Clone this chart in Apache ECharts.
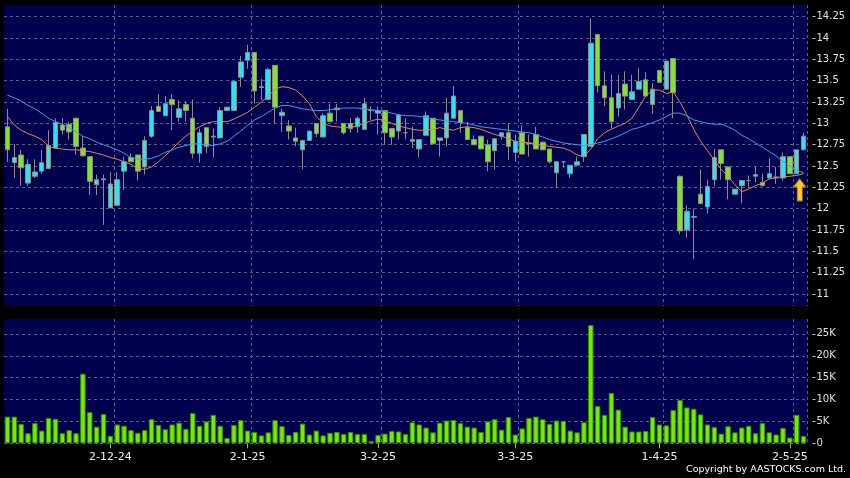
<!DOCTYPE html>
<html><head><meta charset="utf-8">
<script src="https://cdn.jsdelivr.net/npm/echarts@6/dist/echarts.min.js"></script>
<style>html,body{margin:0;padding:0;background:#000;}#c{width:850px;height:478px;}</style>
</head><body><div id="c"></div>
<script>
const dates = ['11-11-24','12-11-24','13-11-24','14-11-24','15-11-24','18-11-24','19-11-24','20-11-24','21-11-24','22-11-24','25-11-24','26-11-24','27-11-24','28-11-24','29-11-24',
'2-12-24','3-12-24','4-12-24','5-12-24','6-12-24','9-12-24','10-12-24','11-12-24','12-12-24','13-12-24','16-12-24','17-12-24','18-12-24','19-12-24','20-12-24','23-12-24','24-12-24','27-12-24','30-12-24','31-12-24',
'2-1-25','3-1-25','6-1-25','7-1-25','8-1-25','9-1-25','10-1-25','13-1-25','14-1-25','15-1-25','16-1-25','17-1-25','20-1-25','21-1-25','22-1-25','23-1-25','24-1-25','27-1-25','28-1-25',
'3-2-25','4-2-25','5-2-25','6-2-25','7-2-25','10-2-25','11-2-25','12-2-25','13-2-25','14-2-25','17-2-25','18-2-25','19-2-25','20-2-25','21-2-25','24-2-25','25-2-25','26-2-25','27-2-25','28-2-25',
'3-3-25','4-3-25','5-3-25','6-3-25','7-3-25','10-3-25','11-3-25','12-3-25','13-3-25','14-3-25','17-3-25','18-3-25','19-3-25','20-3-25','21-3-25','24-3-25','25-3-25','26-3-25','27-3-25','28-3-25','31-3-25',
'1-4-25','2-4-25','3-4-25','7-4-25','8-4-25','9-4-25','10-4-25','11-4-25','14-4-25','15-4-25','16-4-25','17-4-25','22-4-25','23-4-25','24-4-25','25-4-25','28-4-25','29-4-25','30-4-25',
'2-5-25','6-5-25','7-5-25'];

const tickDates = ['2-12-24','2-1-25','3-2-25','3-3-25','1-4-25','2-5-25'];

// [open, close, low, high]
const ohlc = [
[12.96,12.69,12.55,13.17],[12.54,12.60,12.36,12.76],[12.63,12.48,12.27,12.69],[12.30,12.52,12.27,12.58],[12.38,12.43,12.36,12.58],
[12.44,12.54,12.41,12.69],[12.47,12.74,12.47,12.92],[12.71,13.01,12.71,13.06],[12.98,12.92,12.87,13.06],[12.99,12.90,12.81,13.02],
[13.06,12.73,12.63,13.06],[12.71,12.62,12.61,12.85],[12.61,12.32,12.16,12.61],[12.28,12.34,12.16,12.40],[12.34,12.35,11.81,12.40],
[12.01,12.29,12.01,12.43],[12.04,12.34,12.04,12.43],[12.44,12.55,12.22,12.61],[12.60,12.55,12.55,12.65],[12.63,12.44,12.33,12.63],
[12.49,12.80,12.40,12.85],[12.85,13.15,12.83,13.20],[13.20,13.14,13.14,13.34],[13.09,13.23,13.09,13.32],[13.28,13.22,12.92,13.34],
[13.07,13.17,13.02,13.27],[13.22,13.15,13.02,13.26],[13.06,12.65,12.59,13.28],[12.65,12.89,12.54,12.94],[12.95,12.73,12.65,12.95],
[12.85,12.84,12.60,12.94],[12.83,13.15,12.83,13.19],[13.15,13.19,13.15,13.19],[13.15,13.49,13.15,13.50],[13.54,13.72,13.43,13.79],
[13.74,13.83,13.64,13.92],[13.83,13.38,13.23,13.83],[13.42,13.43,13.27,13.52],[13.28,13.63,13.28,13.65],[13.68,13.19,13.00,13.68],
[13.09,13.13,12.90,13.17],[12.97,12.91,12.81,13.04],[12.83,12.79,12.73,12.95],[12.69,12.80,12.46,12.80],[12.80,12.91,12.80,12.91],
[13.00,12.88,12.84,13.00],[12.84,13.09,12.84,13.12],[13.12,13.02,13.02,13.23],[13.16,13.18,13.02,13.23],[13.00,12.89,12.87,13.00],
[13.00,12.94,12.89,13.06],[12.96,13.06,12.89,13.08],[12.93,13.23,12.93,13.30],[13.15,13.15,13.04,13.20],[13.12,13.15,12.87,13.20],
[13.15,12.89,12.75,13.15],[12.94,12.84,12.75,12.94],[12.91,13.10,12.81,13.10],[12.89,12.89,12.81,13.06],[12.81,12.79,12.71,12.96],
[12.70,12.81,12.60,12.81],[12.86,13.09,12.86,13.14],[13.06,12.76,12.76,13.06],[12.80,12.83,12.61,12.83],[12.83,13.12,12.73,13.30],
[13.06,13.32,13.06,13.44],[13.15,13.01,12.89,13.15],[12.95,12.81,12.81,13.02],[12.81,12.75,12.75,12.86],[12.85,12.70,12.70,12.85],
[12.75,12.55,12.44,12.81],[12.68,12.82,12.46,12.82],[12.85,12.89,12.81,12.89],[12.89,12.73,12.57,13.00],[12.66,12.79,12.55,12.87],
[12.89,12.64,12.64,12.98],[12.76,12.77,12.61,12.87],[12.87,12.70,12.70,12.96],[12.78,12.69,12.69,12.78],[12.70,12.55,12.53,12.70],
[12.42,12.55,12.24,12.55],[12.55,12.55,12.48,12.56],[12.41,12.51,12.36,12.51],[12.51,12.55,12.51,12.61],[12.61,12.87,12.55,12.87],
[12.73,13.94,12.73,14.23],[14.04,13.44,13.36,14.04],[13.44,13.30,13.20,13.61],[13.30,13.02,12.94,13.57],[13.18,13.35,13.08,13.57],
[13.46,13.32,13.16,13.61],[13.28,13.37,13.28,13.57],[13.40,13.49,13.40,13.65],[13.51,13.32,13.32,13.60],[13.22,13.40,13.11,13.47],
[13.62,13.48,13.48,13.62],[13.40,13.73,13.40,13.73],[13.76,13.36,13.06,13.76],[12.38,11.74,11.70,12.39],[11.75,11.97,11.66,12.04],
[11.90,11.91,11.41,12.00],[12.17,12.06,12.06,12.46],[12.02,12.26,11.94,12.34],[12.34,12.60,12.27,12.70],[12.69,12.53,12.34,12.69],
[12.49,12.34,12.11,12.49],[12.17,12.23,12.17,12.23],[12.27,12.33,12.06,12.33],[12.33,12.33,12.25,12.39],[12.40,12.38,12.31,12.49],
[12.31,12.27,12.27,12.41],[12.36,12.41,12.34,12.59],[12.37,12.37,12.29,12.49],[12.36,12.61,12.33,12.66],[12.61,12.41,12.41,12.61],
[12.41,12.69,12.41,12.69],[12.69,12.85,12.69,12.89]];

const maShort = [13.08,12.98,12.92,12.88,12.85,12.81,12.73,12.71,12.70,12.69,12.69,12.68,12.67,12.65,12.63,12.60,12.58,12.55,12.52,12.47,12.46,12.49,12.55,
12.62,12.70,12.78,12.85,12.91,12.96,13.00,13.02,13.02,13.02,13.05,13.09,13.13,13.19,13.25,13.32,13.40,13.43,13.42,13.39,13.32,13.23,13.08,
13.00,12.97,12.96,12.95,12.95,12.97,13.00,13.03,13.05,13.03,13.00,12.97,12.95,12.93,12.92,12.92,12.93,12.95,12.93,12.92,12.95,12.96,12.95,12.93,
12.90,12.87,12.85,12.82,12.79,12.78,12.77,12.76,12.74,12.73,12.72,12.71,12.68,12.63,12.61,12.70,12.82,12.89,12.93,12.97,
13.00,13.06,13.19,13.32,13.39,13.39,13.35,13.37,13.25,13.10,12.93,12.79,12.68,12.57,12.46,12.38,12.28,12.20,12.23,12.27,12.30,12.35,12.36,12.37,12.38,12.39,12.41];

const maLong = [13.33,13.30,13.26,13.21,13.17,13.12,13.06,13.02,12.99,12.95,12.90,12.85,12.82,12.78,12.75,12.72,12.69,12.65,12.60,12.58,12.58,12.59,12.62,
12.66,12.69,12.72,12.74,12.76,12.76,12.75,12.74,12.76,12.79,12.85,12.91,12.98,13.04,13.08,13.13,13.18,13.21,13.21,13.19,13.17,13.16,13.15,
13.15,13.16,13.17,13.18,13.18,13.18,13.17,13.16,13.15,13.14,13.12,13.10,13.09,13.09,13.08,13.07,13.05,13.04,13.03,13.02,13.01,13.00,12.98,12.96,
12.95,12.94,12.93,12.92,12.91,12.90,12.89,12.87,12.84,12.81,12.79,12.77,12.76,12.75,12.74,12.75,12.77,12.79,12.82,12.85,
12.89,12.93,12.95,12.98,13.01,13.04,13.08,13.12,13.12,13.09,13.04,13.02,13.00,12.99,12.99,12.96,12.92,12.86,12.82,12.77,12.72,12.67,12.62,12.55,12.50,12.45,12.42];

// volume in thousands of shares
const volumeK = [6.1,6.1,4.4,2.3,4.6,2.9,5.8,5.6,2.3,3.0,2.3,15.9,7.1,3.8,6.7,1.7,4.3,4.0,3.0,2.4,3.0,5.5,4.2,3.2,4.3,4.7,3.3,6.9,4.0,5.0,
6.5,4.0,1.2,4.2,5.3,2.9,2.6,1.8,2.5,5.3,3.9,1.9,2.6,4.5,2.0,2.9,1.8,2.4,2.6,2.1,2.6,2.1,2.1,0.5,1.9,2.2,2.8,2.7,2.1,4.8,
4.3,3.6,2.5,4.7,5.2,5.3,4.6,3.8,3.6,2.6,5.0,5.5,3.1,6.0,2.0,3.4,5.8,6.1,5.5,4.4,5.2,5.1,2.9,2.5,4.8,27.0,8.5,6.5,11.5,7.7,
3.8,2.7,2.7,2.8,6.0,4.3,4.1,7.6,9.9,8.2,7.9,6.6,4.3,3.7,2.2,3.9,2.5,3.6,4.0,2.3,4.6,2.5,2.0,3.5,1.3,6.5,1.7];

const priceTicks = [11,11.25,11.5,11.75,12,12.25,12.5,12.75,13,13.25,13.5,13.75,14,14.25];
const volumeTicks = [0,5,10,15,20,25];
const arrowDate = '6-5-25';
const arrowPrice = 12.22;

const FONT = 'DejaVu Sans';
const PLOT_BG = '#00004e';
const GRID_COLOR = '#5a5a92';
const UP = '#2ee3f0';
const DOWN = '#80e42a';
const tickSet = new Set(tickDates);
const isTick = (i, v) => tickSet.has(typeof v === 'string' ? v : dates[i]);
const isSplit = (i) => i > 0 && tickSet.has(dates[i - 1]);
const splitStyle = {color: GRID_COLOR, type: [3, 3], width: 1};

const option = {
  animation: false,
  backgroundColor: '#000000',
  grid: [
    {left: 4, width: 803, top: 5, height: 301, show: true, backgroundColor: PLOT_BG, borderWidth: 0},
    {left: 4, width: 803, top: 319, height: 124.3, show: true, backgroundColor: PLOT_BG, borderWidth: 0}
  ],
  xAxis: [
    {type: 'category', gridIndex: 0, data: dates, boundaryGap: true,
     axisLine: {show: false}, axisTick: {show: false}, axisLabel: {show: false},
     splitLine: {show: true, interval: isSplit, lineStyle: splitStyle}},
    {type: 'category', gridIndex: 1, data: dates, boundaryGap: true,
     axisLine: {show: false},
     axisTick: {show: true, alignWithLabel: true, interval: isTick, length: 5, lineStyle: {color: '#aaaaaa'}},
     axisLabel: {show: true, interval: isTick, color: '#f0f0f0', fontSize: 11, fontFamily: FONT, margin: 8},
     splitLine: {show: true, interval: isSplit, lineStyle: splitStyle}}
  ],
  yAxis: [
    {type: 'value', gridIndex: 0, position: 'right', offset: 5.5, min: 10.86, max: 14.387, scale: true,
     axisLine: {show: false},
     axisTick: {show: true, customValues: priceTicks, length: 3, lineStyle: {color: '#bbbbbb'}},
     axisLabel: {customValues: priceTicks, color: '#e0e0e0', fontSize: 10, fontFamily: FONT, margin: 4},
     splitLine: {show: true, lineStyle: splitStyle}},
    {type: 'value', gridIndex: 1, position: 'right', offset: 5.5, min: 0, max: 28.4,
     axisLine: {show: false},
     axisTick: {show: true, customValues: volumeTicks, length: 3, lineStyle: {color: '#bbbbbb'}},
     axisLabel: {customValues: volumeTicks, color: '#e0e0e0', fontSize: 10, fontFamily: FONT, margin: 4,
       formatter: v => v === 0 ? '0' : v + 'K'},
     splitLine: {show: true, lineStyle: splitStyle}}
  ],
  series: [
    {type: 'candlestick', xAxisIndex: 0, yAxisIndex: 0, data: ohlc, barWidth: 5,
     itemStyle: {color: UP, color0: DOWN, borderColor: '#8c8c8c', borderColor0: '#8c8c8c', borderWidth: 1},
     markPoint: {silent: true, animation: false,
       data: [{coord: [arrowDate, arrowPrice], symbol: 'path://M6 0 L12 8 L8.5 8 L8.5 22 L3.5 22 L3.5 8 L0 8 Z',
               symbolSize: [12, 22], symbolOffset: [3, 0],
               itemStyle: {color: '#ffcc2e', borderColor: '#c07a10', borderWidth: 1}, label: {show: false}}]}},
    {type: 'line', xAxisIndex: 0, yAxisIndex: 0, data: maShort, showSymbol: false, symbol: 'none', z: 3,
     lineStyle: {color: '#e08850', width: 1}},
    {type: 'line', xAxisIndex: 0, yAxisIndex: 0, data: maLong, showSymbol: false, symbol: 'none', z: 3,
     lineStyle: {color: '#3aa0e8', width: 1}},
    {type: 'bar', xAxisIndex: 1, yAxisIndex: 1, data: volumeK, barWidth: 5.4,
     itemStyle: {color: '#6cf000', borderColor: '#3a8c00', borderWidth: 1}}
  ],
  graphic: [
    {type: 'text', right: 4, top: 465,
     style: {text: 'Copyright by AASTOCKS.com Ltd.', fill: '#ffffff', font: '9.5px "DejaVu Sans"'}}
  ]
};

const chart = echarts.init(document.getElementById('c'));
chart.setOption(option);
</script></body></html>
